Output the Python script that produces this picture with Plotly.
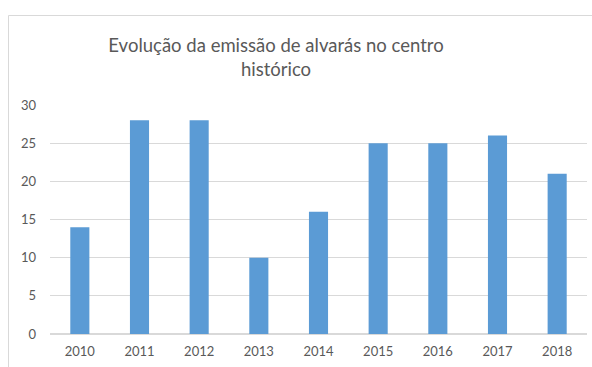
import plotly.graph_objects as go

anos = ["2010", "2011", "2012", "2013", "2014", "2015", "2016", "2017", "2018"]
alvaras = [14, 28, 28, 10, 16, 25, 25, 26, 21]
y_ticks = [0, 5, 10, 15, 20, 25, 30]

W, H = 592, 367
ML, MR, MT, MB = 50, 5, 105, 33
pw = W - ML - MR
ph = H - MT - MB

fig = go.Figure(
    go.Bar(x=anos, y=alvaras, marker=dict(color="#5B9BD5", line=dict(width=0)))
)

# chart frame: top and left edges
fx0 = (8.5 - ML) / pw
fy1 = (H - MB - 15.5) / ph
frame = dict(type="line", xref="paper", yref="paper",
             line=dict(color="#D9D9D9", width=1), layer="above")
fig.add_shape(x0=fx0, x1=(W - ML) / pw, y0=fy1, y1=fy1, **frame)
fig.add_shape(x0=fx0, x1=fx0, y0=fy1, y1=-(MB + 2) / ph, **frame)

fig.update_layout(
    width=W, height=H,
    margin=dict(l=ML, r=MR, t=MT, b=MB),
    paper_bgcolor="white", plot_bgcolor="white",
    font=dict(family="Lato, Open Sans, sans-serif", color="#595959", size=13),
    title=dict(
        text="Evolução da emissão de alvarás no centro<br>histórico",
        x=276 / W, xanchor="center", y=1 - 52 / H, yanchor="top",
        font=dict(size=18.5, color="#595959", family="Lato, Open Sans, sans-serif"),
    ),
    bargap=0.68,
    showlegend=False,
    xaxis=dict(showgrid=False, showline=False, ticks="", ticklabelstandoff=8),
    yaxis=dict(
        range=[0, 30], tickvals=y_ticks, showgrid=True, gridcolor="#D9D9D9",
        gridwidth=1, zeroline=True, zerolinecolor="#D9D9D9", showline=False,
        ticks="", ticklabelstandoff=13,
    ),
)

fig.write_html("out.html")
